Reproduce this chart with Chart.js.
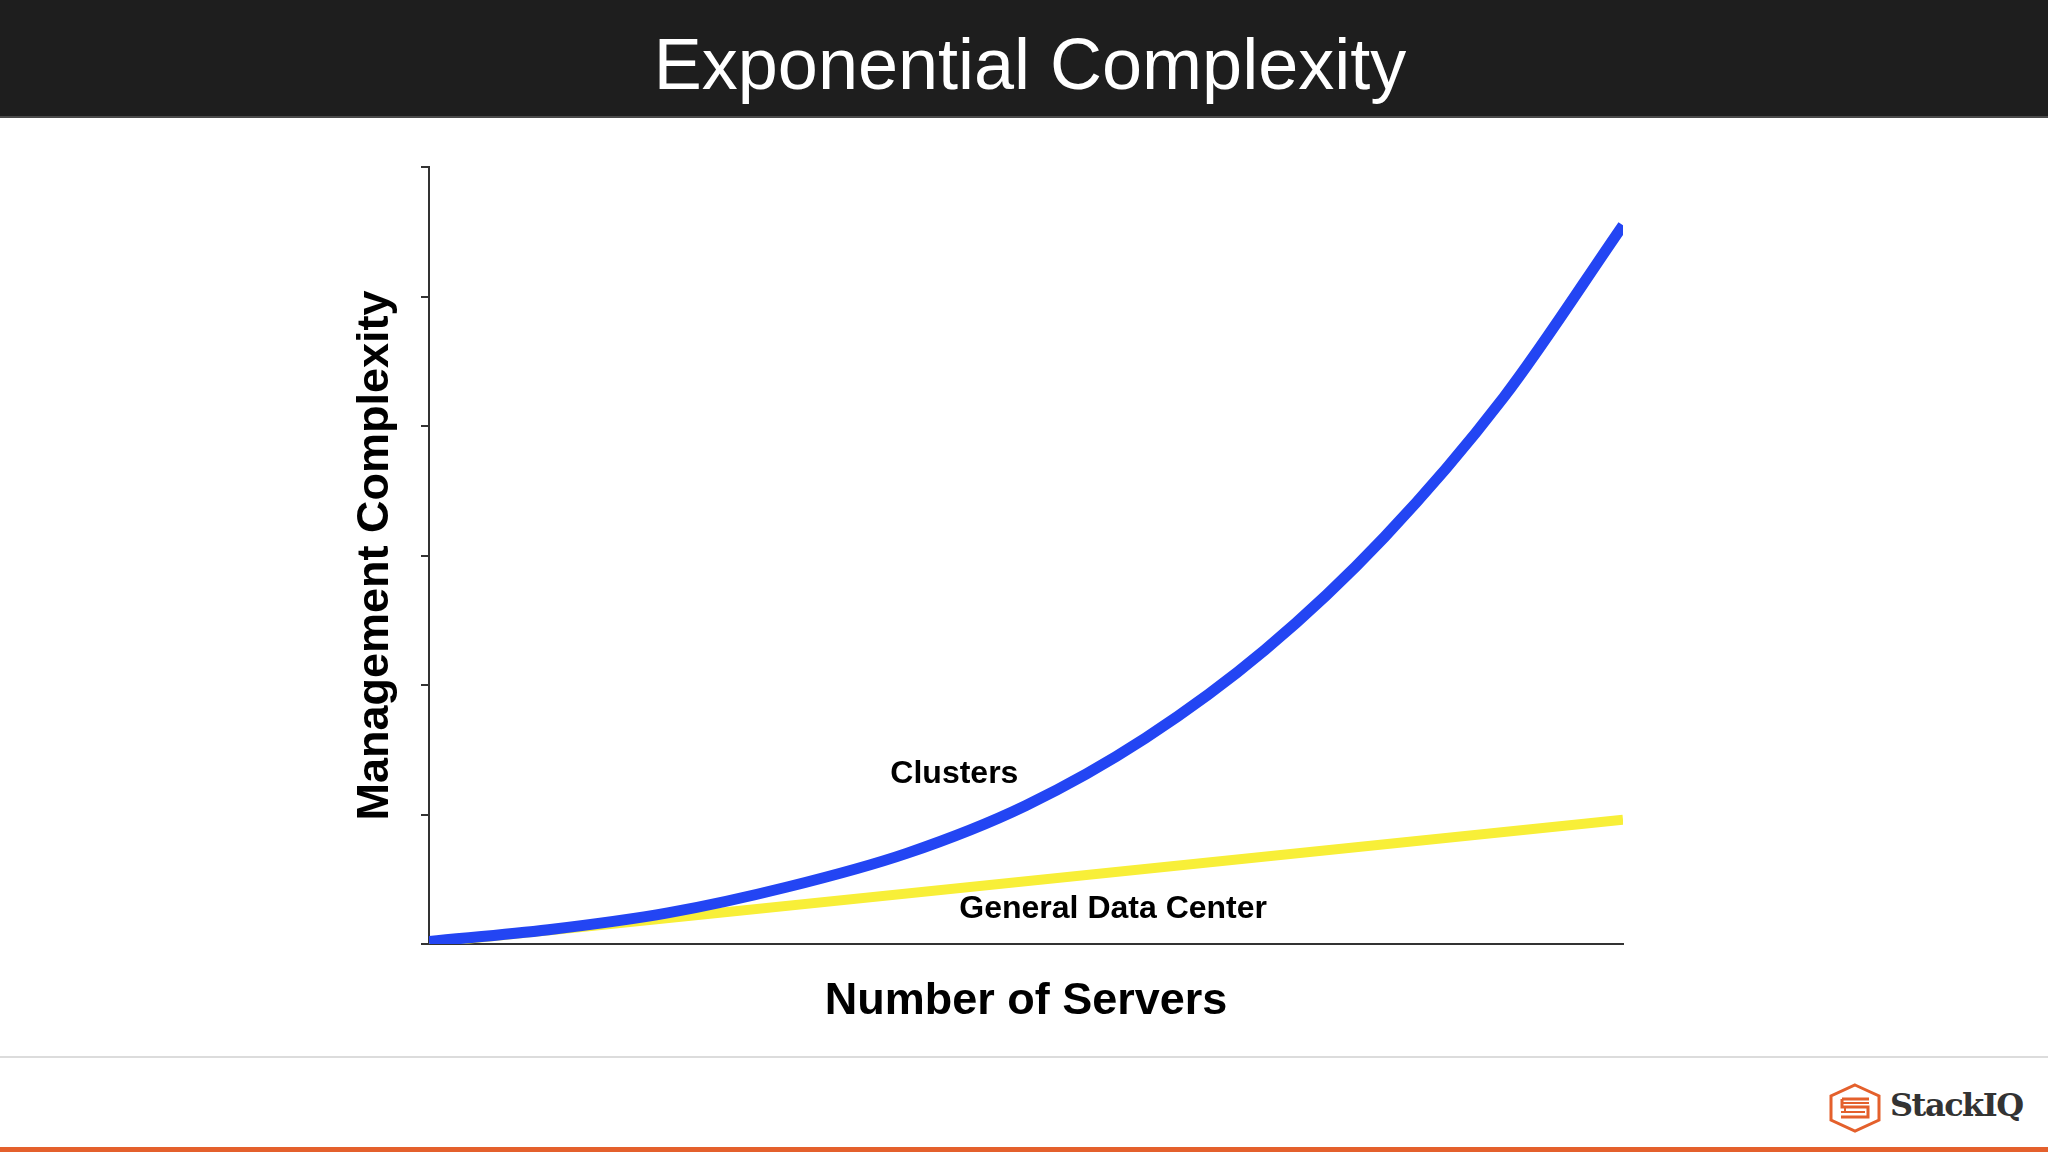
<!DOCTYPE html>
<html>
<head>
<meta charset="utf-8">
<script src="https://cdn.jsdelivr.net/npm/chart.js@4"></script>
<style>
  html, body { margin: 0; padding: 0; background: #fff; overflow: hidden; }
  #page { position: relative; width: 2048px; height: 1152px; background: #fff; }
  #header { position: absolute; left: 0; top: 0; width: 2048px; height: 118px; background: #1e1e1e; border-bottom: 2px solid #4a4a4a; box-sizing: border-box; }
  #header span { position: absolute; left: 12px; right: 0; top: 23px; text-align: center; line-height: 118px; color: #fff; font: 72px "Liberation Sans", Arial, sans-serif; }
  #sep { position: absolute; left: 0; top: 1056px; width: 2048px; height: 2px; background: #dcdcdc; }
  #bar { position: absolute; left: 0; top: 1147px; width: 2048px; height: 5px; background: #e4602c; }
  #logo { position: absolute; left: 1828px; top: 1082px; height: 50px; }
  #logo svg { position: absolute; left: 0; top: 1px; }
  #logo span { position: absolute; left: 62px; top: 4px; font: bold 32px "DejaVu Serif", serif; color: #333; letter-spacing: -1.5px; white-space: nowrap; }
  #mycanvas { position: absolute; left: 0; top: 0; }
</style>
</head>
<body>
<div id="page">
  <div id="header"><span>Exponential Complexity</span></div>
  <div id="sep"></div>
  <div id="bar"></div>
  <div id="logo">
    <svg width="54" height="50" viewBox="0 0 54 50">
      <polygon points="27,2 51,13 51,37 27,48 3,37 3,13" fill="none" stroke="#e4602c" stroke-width="3"/>
      <path d="M14,16 H41 M14,16 V24 H40 V34 H13" fill="none" stroke="#e4602c" stroke-width="3"/>
      <path d="M14,20 H41 M17,24 V29 M37,29 H13" fill="none" stroke="#e4602c" stroke-width="2"/>
    </svg>
    <span>StackIQ</span>
  </div>
  <canvas id="mycanvas" width="2048" height="1152"></canvas>
</div>
<script>
// (x = servers, 0..100; y = complexity, 0..6)
var serverCounts = [0, 10, 20, 30, 40, 50, 60, 70, 80, 90, 100];
var clusterComplexity = [0.02, 0.11, 0.24, 0.44, 0.70, 1.07, 1.59, 2.27, 3.14, 4.22, 5.55];
var dataCenterServers = [0, 100];
var dataCenterComplexity = [0.01, 0.96];
var yTickValues = [0, 1, 2, 3, 4, 5, 6];

var clusterPoints = [];
for (var i in serverCounts) {
  clusterPoints.push({x: serverCounts[i], y: clusterComplexity[i]});
}
var dataCenterPoints = [];
for (var j in dataCenterServers) {
  dataCenterPoints.push({x: dataCenterServers[j], y: dataCenterComplexity[j]});
}

// text labels next to the two lines, anchored in data units
var lineLabels = {
  id: 'lineLabels',
  afterDatasetsDraw: function(chart) {
    var ctx = chart.ctx;
    var xs = chart.scales.x, ys = chart.scales.y;
    ctx.save();
    ctx.font = 'bold 32px "Liberation Sans", Arial, sans-serif';
    ctx.fillStyle = '#000';
    ctx.textAlign = 'center';
    ctx.textBaseline = 'middle';
    ctx.fillText('Clusters', xs.getPixelForValue(44), ys.getPixelForValue(1.31));
    ctx.fillText('General Data Center', xs.getPixelForValue(57.3), ys.getPixelForValue(0.27));
    ctx.restore();
  }
};

var chartdata = {
  datasets: [
    {
      label: 'Clusters',
      data: clusterPoints,
      borderColor: '#2345f3',
      backgroundColor: '#2345f3',
      borderWidth: 11,
      borderCapStyle: 'butt',
      pointRadius: 0,
      cubicInterpolationMode: 'monotone',
      fill: false
    },
    {
      label: 'General Data Center',
      data: dataCenterPoints,
      borderColor: '#f8ef38',
      backgroundColor: '#f8ef38',
      borderWidth: 10,
      borderCapStyle: 'butt',
      pointRadius: 0,
      fill: false
    }
  ]
};

var ctx = document.getElementById('mycanvas');

var LineGraph = new Chart(ctx, {
  type: 'line',
  data: chartdata,
  plugins: [lineLabels],
  options: {
    responsive: false,
    animation: false,
    devicePixelRatio: 1,
    layout: { padding: { left: 349, right: 425, top: 167, bottom: 123 } },
    plugins: { legend: { display: false }, tooltip: { enabled: false } },
    scales: {
      x: {
        type: 'linear',
        min: 0,
        max: 100,
        grid: { display: false, drawTicks: false },
        border: { display: true, color: '#333', width: 2 },
        ticks: { display: false },
        title: {
          display: true,
          text: 'Number of Servers',
          color: '#000',
          font: { family: '"Liberation Sans", Arial, sans-serif', size: 45, weight: 'bold', lineHeight: 1.2 },
          padding: { top: 31, bottom: 0 }
        }
      },
      y: {
        min: 0,
        max: 6,
        afterBuildTicks: function(scale) {
          scale.ticks = yTickValues.map(function(v) { return {value: v}; });
        },
        grid: { drawOnChartArea: false, drawTicks: true, tickLength: 8, color: '#333', lineWidth: 2 },
        border: { display: true, color: '#333', width: 2 },
        ticks: { display: false },
        title: {
          display: true,
          text: 'Management Complexity',
          color: '#000',
          font: { family: '"Liberation Sans", Arial, sans-serif', size: 45, weight: 'bold', lineHeight: 1.2 },
          padding: { top: 0, bottom: 18 }
        }
      }
    }
  }
});
</script>
</body>
</html>
